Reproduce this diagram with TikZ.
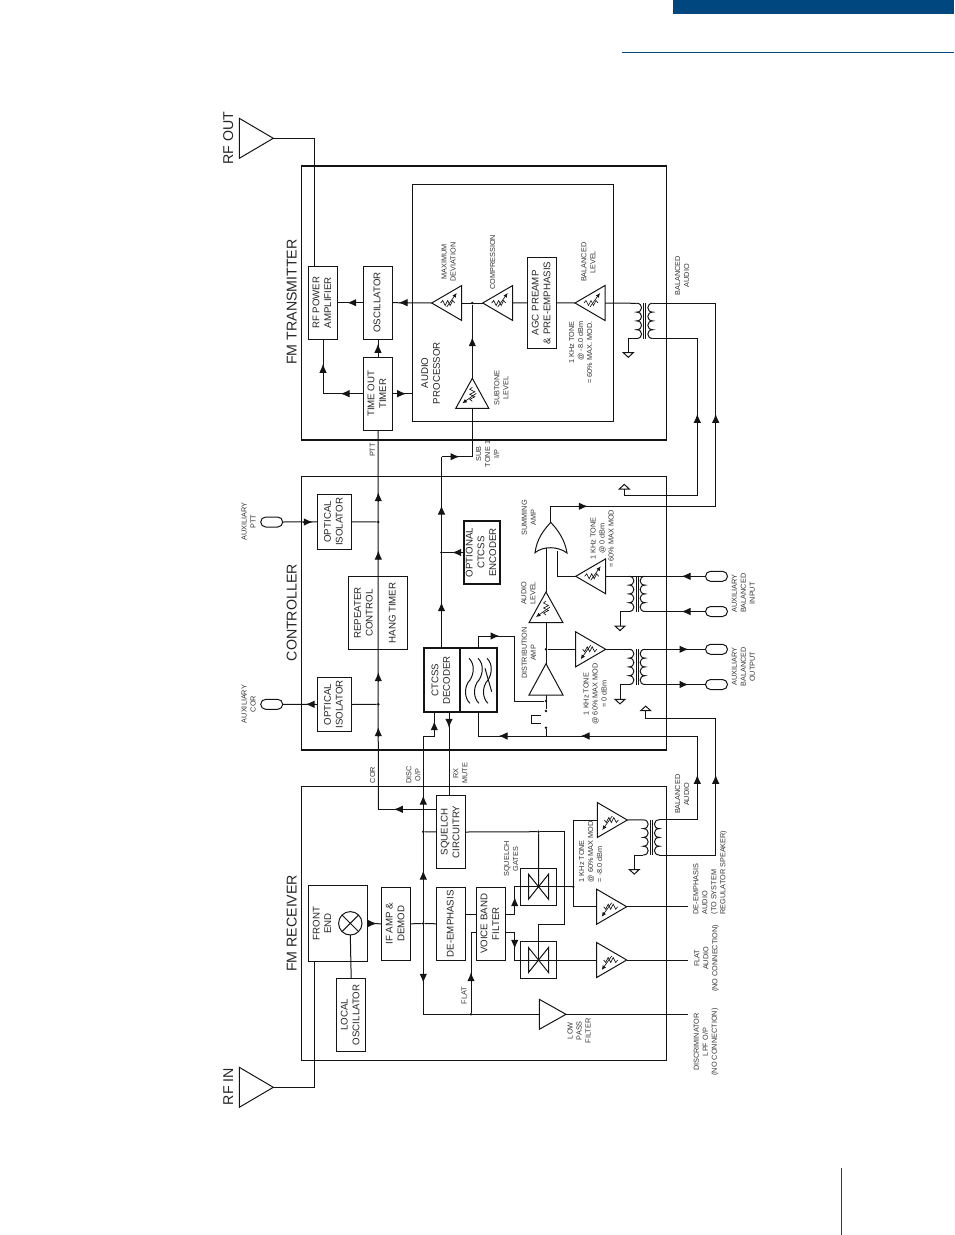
\documentclass[tikz,border=0pt]{standalone}
\usepackage{fontspec}
\setmainfont{Liberation Sans}
\usepackage{graphicx}
\usetikzlibrary{arrows.meta,shapes.geometric,shapes.misc}
\definecolor{brandblue}{HTML}{00467F}
\newcommand{\rt}[1]{\rotatebox{90}{\begin{tabular}{@{}c@{}}#1\end{tabular}}}
\newcommand{\arR}[2]{\draw[tipd] ({#1-5},#2) -- ({#1+4.5},#2);}
\newcommand{\arL}[2]{\draw[tipd] ({#1+5},#2) -- ({#1-4.5},#2);}
\newcommand{\arU}[2]{\draw[tipd] (#1,{#2+5}) -- (#1,{#2-4.5});}
\newcommand{\arD}[2]{\draw[tipd] (#1,{#2-5}) -- (#1,{#2+4.5});}
\newcommand{\potm}[3]{\begin{scope}[shift={(#1.apex)},rotate=#2,yscale=#3]
  \draw[potline] (9,0)--(11,-2.5)--(13.5,2.5)--(16,-2.5)--(18.5,2.5)--(21,-2.5)--(23,0);
  \draw[potline,-{Latex[length=4.5pt,width=4pt]}] (15,4) -- (25,-10);
\end{scope}}
\newcommand{\xfmr}[3]{%
  \pgfmathsetmacro{\xa}{#2}\pgfmathsetmacro{\ya}{#3}
  \pgfmathsetmacro{\yb}{#3+8.8}\pgfmathsetmacro{\yc}{#3+17.6}\pgfmathsetmacro{\yd}{#3+26.4}\pgfmathsetmacro{\ye}{#3+35.2}
  \pgfmathsetmacro{\xb}{#2+6.5}\pgfmathsetmacro{\xs}{#2+16}\pgfmathsetmacro{\xt}{#2+9.5}
  \coordinate (#1-p1) at (\xa,\ya);\coordinate (#1-p2) at (\xa,\ye);
  \coordinate (#1-s1) at (\xs,\ya);\coordinate (#1-s2) at (\xs,\ye);
  \draw[wire] (\xa,\ya) .. controls (\xb,\ya) and (\xb,\yb) .. (\xa,\yb) .. controls (\xb,\yb) and (\xb,\yc) .. (\xa,\yc) .. controls (\xb,\yc) and (\xb,\yd) .. (\xa,\yd) .. controls (\xb,\yd) and (\xb,\ye) .. (\xa,\ye);
  \draw[wire] (\xs,\ya) .. controls (\xt,\ya) and (\xt,\yb) .. (\xs,\yb) .. controls (\xt,\yb) and (\xt,\yc) .. (\xs,\yc) .. controls (\xt,\yc) and (\xt,\yd) .. (\xs,\yd) .. controls (\xt,\yd) and (\xt,\ye) .. (\xs,\ye);
  \draw[wire] ({#2+7.2},\ya) -- ({#2+7.2},\ye) ({#2+9},\ya) -- ({#2+9},\ye);
}
\newcommand{\gatex}[3]{\draw[wire] ({#2-10},{#3-12.5}) -- ({#2-10},{#3+12.5}) -- ({#2+10},{#3-12.5}) -- ({#2+10},{#3+12.5}) -- cycle;
  \coordinate (#1) at (#2,#3);}
\newcommand{\wavy}[1]{\draw[wire] (#1,658.3) .. controls ({#1+6},664) and ({#1+5},674) .. ({#1+1},680) .. controls ({#1-5},686) and ({#1-5},698) .. ({#1+1},703.3);}
\tikzset{
  wire/.style={line width=1pt,black!92},
  potline/.style={line width=0.65pt,black!92,line join=miter},
  tipd/.style={wire,-{Latex[length=9pt,width=7.5pt]}},
  big/.style={font=\fontsize{14.2}{16}\selectfont,rotate=90,inner sep=0pt,text=black!85},
  lbl/.style={font=\fontsize{7.3}{9}\selectfont,rotate=90,inner sep=0pt,align=center,text=black!80},
  mid/.style={font=\fontsize{9.7}{11.7}\selectfont,rotate=90,inner sep=0pt,align=center,text=black!85},
  box/.style={draw,line width=1pt,black!92,rectangle,inner sep=0pt,outer sep=0pt,font=\fontsize{9.7}{11.7}\selectfont,text=black!85},
  thickbox/.style={box,line width=1.9pt},
  amp/.style={isosceles triangle,isosceles triangle stretches,draw,line width=1pt,black!92,inner sep=0pt,outer sep=0pt,minimum width=35pt,minimum height=30pt,anchor=apex},
  ampL/.style={amp,shape border rotate=180},
  ampR/.style={amp,shape border rotate=0},
  ampU/.style={amp,shape border rotate=90},
  grd/.style={amp,minimum width=10pt,minimum height=4.6pt,anchor=lower side},
  dot/.style={circle,fill=black!92,inner sep=0pt,minimum size=2.8pt},
  oval/.style={rounded rectangle,draw,line width=1pt,black!92,minimum width=22pt,minimum height=10pt,inner sep=0pt,outer sep=0pt},
}
\begin{document}
\begin{tikzpicture}[x=1pt,y=-1pt]
\useasboundingbox (0,0) rectangle (954,1235);
% page furniture
\fill[brandblue] (673,0) rectangle (954,14);
\draw[brandblue,line width=1pt] (622,52.3) -- (954,52.3);
\draw[brandblue,line width=1pt] (841.6,1168) -- (841.6,1235);

% section frames
\draw[wire] (301.7,166) -- (301.7,440) (666,166) -- (666,440);
\draw[line width=2pt,black!92] (301,166) -- (666.5,166) (301,440) -- (666.5,440);
\draw[wire] (301.7,749.7) -- (301.7,476.7) -- (666,476.7) -- (666,749.7);
\draw[line width=2pt,black!92] (301,749.7) -- (666.5,749.7);
\draw[wire] (301.7,786) rectangle (666,1060);
\draw[wire] (412.3,184.3) rectangle (613.3,421.3);

% titles
\node[big] (tTx) at (291.7,302) {FM TRANSMITTER};
\node[big] (tCt) at (291.7,612.7) {CONTROLLER};
\node[big] (tRx) at (291.7,923.3) {FM RECEIVER};
\node[big] (tOut) at (228.3,138.3) {RF OUT};
\node[big] (tIn) at (228.3,1086.7) {RF IN};

% ---- transmitter
\node[ampR,minimum width=40pt,minimum height=34pt] (rfout) at (273.3,138.3) {};
\node[box,minimum width=28.6pt,minimum height=73.3pt] (rfpa) at (323,302.7) {\rt{RF POWER\\AMPLIFIER}};
\node[box,minimum width=28.6pt,minimum height=73.3pt] (osc) at (378,302.7) {\rt{OSCILLATOR}};
\node[box,minimum width=28.6pt,minimum height=72.7pt] (tot) at (378,393.7) {\rt{TIME OUT\\TIMER}};
\node[box,minimum width=29pt,minimum height=91pt] (agc) at (542.2,302.8) {\rt{AGC PREAMP\\\& PRE-EMPHASIS}};
\node[ampL] (maxd) at (431.7,303) {};
\node[ampL] (comp) at (482.7,303) {};
\node[ampL] (ball) at (575,303) {};
\node[ampU,minimum width=33pt,minimum height=30pt] (subt) at (472.3,378.3) {};
\potm{maxd}{0}{1}\potm{comp}{0}{1}\potm{ball}{0}{1}\potm{subt}{-90}{-1}
\xfmr{tx}{636.7}{303.3}
\node[dot] (j1) at (472.3,303) {};
\coordinate (rfoutc) at (314.3,266);
\coordinate (apr) at (412.3,393.7);
\coordinate (subj) at (472.3,456.7);
\coordinate (decT) at (441.5,456.7);
\node[grd,shape border rotate=-90] (gtx) at (628.3,352.7) {};
\node[grd,shape border rotate=90] (gtx2) at (624.3,489) {};
\node[grd,shape border rotate=90] (gtx3) at (645.7,710.7) {};
\draw[wire] (rfout.apex) -| (rfoutc);
\draw[wire] (osc.west) -- (rfpa.east);\arL{351.7}{302.7}
\draw[wire] (maxd.apex) -- (osc.east);\arL{403}{302.7}
\draw[wire] (tot.north) -- (osc.south);\arU{378}{348.3}
\draw[wire] (tot.west) -| (rfpa.south);\arL{345}{393.7}\arU{323}{368.3}
\draw[wire] (tot.east) -- (apr);\arR{401.7}{393.7}
\draw[wire] (maxd.lower side) -- (comp.apex);
\draw[wire] (comp.lower side) -- (agc.west);
\draw[wire] (agc.east) -- (ball.apex);
\draw[wire] (ball.lower side) -- (tx-p1);
\draw[wire] (subt.apex) -- (j1);\arU{472.3}{341.7}
\draw[wire] (decT) -- (subj) -- (subt.lower side);\arR{455}{456.7}
\draw[wire] (tx-p2) -| (gtx.lower side);

% ---- controller
\node[box,minimum width=33.6pt,minimum height=55pt] (opt1) at (334.5,521.8) {\rt{OPTICAL\\ISOLATOR}};
\node[box,minimum width=33.6pt,minimum height=54.4pt] (opt2) at (334.5,704.5) {\rt{OPTICAL\\ISOLATOR}};
\node[oval] (auxptt) at (271.7,522) {};
\node[oval] (auxcor) at (271.7,704.3) {};
\node[box,minimum width=59pt,minimum height=72.6pt] (rep) at (377.8,613) {};
\node[mid] (repT) at (363.5,613) {REPEATER\\CONTROL};
\node[mid] (hangT) at (392.3,613) {HANG TIMER};
\node[thickbox,minimum width=36.3pt,minimum height=64pt] (dec) at (441.8,680.3) {\rt{CTCSS\\DECODER}};
\node[thickbox,minimum width=37.3pt,minimum height=64pt] (filt) at (478.6,680.3) {};
\wavy{469}\wavy{478}\wavy{487}
\draw[wire] (485,668.3) -- (491.7,691.7);
\node[thickbox,minimum width=36pt,minimum height=63pt] (enc) at (482,552.5) {\rt{OPTIONAL\\CTCSS\\ENCODER}};
\node[dot] (jp) at (378.3,522) {};
\node[dot] (jc) at (378.3,704.3) {};
\node[dot] (jd) at (441.5,552.5) {};
\draw[wire] (auxptt.east) -- (opt1.west);\arR{308.3}{522}
\draw[wire] (opt2.west) -- (auxcor.east);\arL{310}{704.3}
\draw[wire] (opt1.east) -- (jp);
\draw[wire] (opt2.east) -- (jc);
\coordinate (corb) at (378.3,809.3);
\draw[wire] (tot.south) -- (corb);
\arU{378.3}{496.7}\arU{378.3}{555}\arU{378.3}{676.7}\arU{378.3}{731.7}
\draw[wire] (dec.north -| decT) -- (decT);\arU{441.5}{510}\arU{441.5}{606.7}
\draw[wire] (enc.west) -- (jd);\arL{456.7}{552.5}

% ---- summing / distribution
\coordinate (gateT) at (550.7,522.3);
\coordinate (gateA) at (546,548.3);
\coordinate (gateB) at (557.3,550.6);
\draw[wire] (535,552.7) .. controls (537,538) and (544,530) .. (gateT) .. controls (558,530) and (565,540) .. (567,553) .. controls (558,546) and (543,546) .. cycle;
\node[ampU,minimum width=34pt,minimum height=30.7pt] (lev) at (546,592) {};
\node[ampU,minimum width=34pt,minimum height=31.3pt] (dist) at (546,663.7) {};
\node[ampL] (amin) at (575.7,576.3) {};
\node[ampR] (aout) at (605.7,649.3) {};
\potm{lev}{-90}{-1}\potm{amin}{0}{1}\potm{aout}{180}{1}
\xfmr{xin}{629}{576.3}
\xfmr{xout}{629}{649.3}
\node[dot] (jdist) at (546,649.3) {};
\node[dot] (jsw0) at (546,701) {};
\node[dot] (jsw1) at (546,711) {};
\node[dot] (jsw2) at (546,727.7) {};
\coordinate (jbus) at (546,736);
\node[oval] (inA) at (716.5,576.3) {};
\node[oval] (inB) at (716.5,611.5) {};
\node[oval] (outA) at (716.5,649.3) {};
\node[oval] (outB) at (716.5,684.5) {};
\node[grd,shape border rotate=-90] (gin) at (620,626) {};
\node[grd,shape border rotate=-90] (gout) at (620,699.3) {};
\draw[wire] (gateA) -- (lev.apex);
\draw[wire] (lev.lower side) -- (dist.apex);
\draw[wire] (jdist) -- (aout.lower side);
\draw[wire] (aout.apex) -- (xout-p1);
\draw[wire] (xout-s1) -- (outA.west);\arR{684}{649.3}
\draw[wire] (xout-s2) -- (outB.west);\arR{684}{684.5}
\draw[wire] (xout-p2) -| (gout.lower side);
\draw[wire] (amin.apex) -| (gateB);
\draw[wire] (amin.lower side) -- (xin-p1) -- (xin-s1) -- (inA.west);\arL{686}{576.3}
\draw[wire] (inB.west) -- (xin-s2);\arL{686}{611.5}
\draw[wire] (xin-p2) -| (gin.lower side);
\draw[wire] (dist.lower side) -- (jsw1);
\draw[wire] (jsw2) -- (jbus);
\draw[wire] (541,715) -- (531.7,715) -- (531.7,723.3) -- (541,723.3);
\coordinate (fT) at (478.3,636);
\draw[wire] (jsw0) -- (514.3,701) -- (514.3,636) -- (fT) -- (filt.north -| fT);\arR{495}{636}
\coordinate (b1) at (697.3,736);
\coordinate (b2) at (715.7,718.3);
\coordinate (t1) at (697.3,495);
\coordinate (t2) at (715.7,506.3);
\draw[wire] (filt.south -| fT) -- (478.3,736) -- (b1);\arL{503}{736}\arL{585}{736}
\draw[wire] (gateT) -- (550.7,506.3) -- (t2);\arR{583.3}{506.3}
\draw[wire] (tx-s1) -- (715.7,303.3) -- (t2);\arU{715.7}{418.3}
\draw[wire] (tx-s2) -- (697.3,338.5) -- (t1) -- (624.3,495) -- (gtx2.lower side);\arU{697.3}{418.3}

% ---- receiver
\node[box,minimum width=58.6pt,minimum height=75.6pt] (fe) at (338,923.5) {};
\node[mid] (feT) at (322,923.3) {FRONT\\END};
\node[circle,draw,line width=1pt,black!92,minimum size=23.4pt,inner sep=0pt,outer sep=0pt] (mix) at (350.3,923.3) {};
\draw[wire] (mix.north east) -- (mix.south west) (mix.north west) -- (mix.south east);
\node[box,minimum width=29pt,minimum height=73pt] (lo) at (351.2,1014.8) {\rt{LOCAL\\OSCILLATOR}};
\node[box,minimum width=29pt,minimum height=73pt] (ifa) at (396.2,923.8) {\rt{IF AMP \&\\DEMOD}};
\node[box,minimum width=29pt,minimum height=73pt] (dee) at (451.2,923.8) {\rt{DE-EMPHASIS}};
\node[box,minimum width=28.6pt,minimum height=73pt] (vbf) at (491,923.8) {\rt{VOICE BAND\\FILTER}};
\node[box,minimum width=29pt,minimum height=72.6pt] (sq) at (451.2,832) {\rt{SQUELCH\\CIRCUITRY}};
\node[box,minimum width=36pt,minimum height=36.7pt] (g1) at (538.6,886.7) {};
\node[box,minimum width=36pt,minimum height=36.7pt] (g2) at (538.6,960) {};
\gatex{g1x}{538.5}{886.7}
\gatex{g2x}{538.5}{960}
\node[ampR] (arx) at (627.3,820) {};
\node[ampR] (ade) at (626.7,906.7) {};
\node[ampR] (afl) at (626.7,960) {};
\potm{arx}{180}{1}\potm{ade}{180}{1}\potm{afl}{180}{1}
\node[ampR,minimum width=30pt,minimum height=26.7pt] (lpf) at (566,1014.3) {};
\xfmr{xrx}{643.3}{819.8}
\node[ampR,minimum width=40pt,minimum height=34pt] (rfin) at (273.3,1087.3) {};
\node[grd,shape border rotate=-90] (grx) at (634.3,869.5) {};
\node[dot] (jd1) at (423.3,831.7) {};
\node[dot] (jd2) at (423.3,923.5) {};
\node[dot] (jf) at (471,1014.3) {};
\node[dot] (jsq) at (538.5,831.7) {};
\node[dot] (jg) at (573.3,886.7) {};
\coordinate (disT) at (423.3,736);
\coordinate (decB) at (434.3,736);
\coordinate (rxm) at (449,760);
\coordinate (lpfL) at (423.3,1014.3);
\coordinate (outD) at (688.3,906.7);
\coordinate (outF) at (688.3,960);
\coordinate (outL) at (688.3,1014.3);
\coordinate (rfinc) at (314.7,961.3);
\draw[wire] (rfin.apex) -| (rfinc);
\draw[wire] (fe.east) -- (ifa.west);\arR{372.3}{923.5}
\draw[wire] (mix.south) -- (lo.north);
\draw[wire] (ifa.east) -- (jd2) -- (dee.west);
\draw[wire] (disT) -- (lpfL) -- (lpf.lower side);\arU{423.3}{800}\arU{423.3}{875}\arD{423.3}{978.3}
\draw[wire] (disT) -- (decB) -- (dec.south -| decB);\arU{434.3}{725.7}
\draw[wire] (sq.north -| rxm) -- (dec.south -| rxm);\arD{449}{723.3}
\draw[wire] (sq.west |- corb) -- (corb);\arL{398.3}{809.3}
\draw[wire] (jd1) -- (sq.west);
\draw[wire] (sq.east) -- (jsq) -- (g1x);
\draw[wire] (jsq) -- (564.3,831.7) -- (564.3,924.3) -- (538.5,924.3) -- (g2x);
\draw[wire] (465.7,914.3) -- (476.7,914.3);
\draw[wire] (jf) -- (471,932.7) -- (476.7,932.7);\arU{471}{976.7}
\draw[wire] (505.3,914.3) -- (514.7,914.3) -- (514.7,886.7) -- (jg);\arU{514.7}{901.7}
\draw[wire] (505.3,932.3) -- (514.7,932.3) -- (514.7,960) -- (afl.lower side);\arD{514.7}{944.3}
\draw[wire] (arx.lower side) -- (573.3,820) -- (573.3,906.7) -- (ade.lower side);
\draw[wire] (arx.apex) -- (xrx-p1);
\draw[wire] (xrx-p2) -| (grx.lower side);
\draw[wire] (ade.apex) -- (outD);
\draw[wire] (afl.apex) -- (outF);
\draw[wire] (lpf.apex) -- (outL);
\draw[wire] (xrx-s1) -- (697.3,819.8) -- (b1);\arU{697.3}{779.3}
\draw[wire] (xrx-s2) -- (715.7,855) -- (b2) -- (645.7,718.3) -- (gtx3.lower side);\arU{715.7}{779.3}

% ---- labels
\node[lbl] (l1) at (372.3,450) {PTT};
\node[lbl] (l2) at (487.7,454) {SUB\\TONE 1\\I/P};
\node[lbl] (l3) at (448.7,262) {MAXIMUM\\DEVIATION};
\node[lbl] (l4) at (492.7,262.3) {COMPRESSION};
\node[lbl] (l5) at (588.3,262.3) {BALANCED\\LEVEL};
\node[lbl,align=right] (l6) at (580.7,352.5) {1 KHz TONE\\@ -8.0 dBm\\= 60\% MAX. MOD.};
\node[mid] (l7) at (430.7,373) {AUDIO\\PROCESSOR};
\node[lbl] (l8) at (501.3,388) {SUBTONE\\LEVEL};
\node[lbl] (l9) at (682,275.7) {BALANCED\\AUDIO};
\node[lbl] (l10) at (248.7,521.7) {AUXILIARY\\PTT};
\node[lbl] (l11) at (248.7,704) {AUXILIARY\\COR};
\node[lbl] (l12) at (372.7,775) {COR};
\node[lbl] (l13) at (413.3,775) {DISC\\O/P};
\node[lbl] (l14) at (460.3,773.3) {RX\\MUTE};
\node[lbl] (l15) at (528.7,517.7) {SUMMING\\AMP};
\node[lbl] (l16) at (602,538.7) {1 KHz TONE\\@ 0 dBm\\= 60\% MAX MOD};
\node[lbl] (l17) at (528.3,593.3) {AUDIO\\LEVEL};
\node[lbl] (l18) at (528.7,653) {DISTRIBUTION\\AMP};
\node[lbl] (l19) at (595,694) {1 KHz TONE\\@ 60\% MAX MOD\\= 0 dBm};
\node[lbl] (l20) at (743.3,593.3) {AUXILIARY\\BALANCED\\INPUT};
\node[lbl] (l21) at (743.3,666.7) {AUXILIARY\\BALANCED\\OUTPUT};
\node[lbl] (l22) at (682,794.3) {BALANCED\\AUDIO};
\node[lbl,align=left] (l23) at (710,872.5) {DE-EMPHASIS\\AUDIO\\(TO SYSTEM\\REGULATOR SPEAKER)};
\node[lbl] (l24) at (706.7,958.3) {FLAT\\AUDIO\\(NO CONNECTION)};
\node[lbl] (l25) at (706,1042) {DISCRIMINATOR\\LPF O/P\\(NO CONNECTION)};
\node[lbl] (l26) at (579,1030.7) {LOW\\PASS\\FILTER};
\node[lbl] (l27) at (511.2,859) {SQUELCH\\GATES};
\node[lbl,align=left] (l28) at (590.7,851.7) {1 KHz TONE\\@ 60\% MAX MOD\\= -8.0 dBm};
\node[lbl] (l29) at (464,995.7) {FLAT};
\end{tikzpicture}
\end{document}
